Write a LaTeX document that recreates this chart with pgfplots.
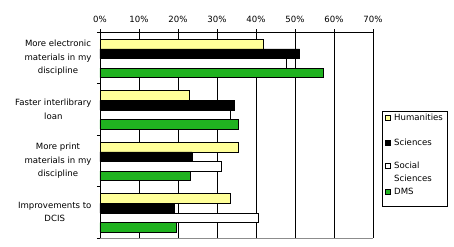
\documentclass[border=0pt]{standalone}
\usepackage{pgfplots}
\pgfplotsset{compat=1.18}
\usepackage{fontspec}
\setmainfont{DejaVu Sans}
\definecolor{hum}{RGB}{255,255,153}
\definecolor{dms}{RGB}{32,178,32}
\definecolor{bord}{RGB}{140,140,140}
\pgfplotsset{sq/.style={legend image code/.code={\path (0bp,0bp); \draw[##1,line width=0.8bp] (2bp,0bp) rectangle (7bp,5bp);}}}
\begin{document}
\begin{tikzpicture}[font=\fontsize{8.6}{13.3}\selectfont]
\useasboundingbox (-100bp,-9bp) rectangle (354bp,238bp);
\begin{axis}[
  at={(0,0)}, anchor=south west,
  scale only axis, width=273bp, height=206bp,
  xbar, bar width=9.6bp,
  xmin=0, xmax=70, ymin=-0.5, ymax=3.5, y dir=reverse,
  axis x line*=top, axis y line*=left,
  axis line style={black, line width=0.8bp, -},
  tick align=outside, major tick length=3bp,
  tick style={black, line width=0.8bp},
  xtick={0,10,...,70},
  xticklabel={\pgfmathprintnumber{\tick}\%},
  xticklabel style={yshift=3bp},
  /pgf/number format/assume math mode=true,
  xmajorgrids, major grid style={black, line width=0.8bp},
  ytick={-0.5,0.5,1.5,2.5,3.5}, yticklabels={,,,,},
  extra y ticks={0,1,2,3},
  extra y tick labels={{More electronic\\materials in my\\discipline},{Faster interlibrary\\loan},{More print\\materials in my\\discipline},{Improvements to\\DCIS}},
  extra y tick style={major tick length=0pt},
  tick label style={font=\fontsize{8.6}{13.3}\selectfont},
  yticklabel style={align=center, xshift=-5bp},
  legend style={at={(axis description cs:1.033,0.6165)}, anchor=north west,
    draw=black, line width=0.8bp, inner xsep=1bp, inner ysep=1.8bp, row sep=0pt,
    font=\fontsize{8.6}{13.3}\selectfont,
    nodes={inner ysep=1bp, inner xsep=3bp, text depth=}, cells={anchor=base west}},
]
\addplot[fill=hum, draw=black, line width=0.8bp, bar shift=13.65bp, sq] coordinates {(42,0) (23,1) (35.5,2) (33.5,3)};
\addlegendentry{Humanities\rule[-16.2bp]{0pt}{0pt}}
\addplot[fill=black, draw=black, line width=0.8bp, bar shift=4.05bp, sq] coordinates {(51.2,0) (34.4,1) (23.6,2) (19.1,3)};
\addlegendentry{Sciences\rule[-14.8bp]{0pt}{0pt}}
\addplot[fill=white, draw=black, line width=0.8bp, bar shift=-5.55bp, sq] coordinates {(47.7,0) (33.4,1) (31.1,2) (40.6,3)};
\addlegendentry{Social\rule[-4bp]{0pt}{0pt}}
\addlegendimage{legend image code/.code={}}
\addlegendentry{Sciences\rule[-4.5bp]{0pt}{0pt}}
\addplot[fill=dms, draw=black, line width=0.8bp, bar shift=-15.15bp, sq] coordinates {(57.3,0) (35.5,1) (23.2,2) (19.6,3)};
\addlegendentry{DMS\rule[-9.7bp]{0pt}{0pt}}
\draw[bord, line width=0.8bp] (axis description cs:1,0) -- (axis description cs:1,1);
\draw[bord, line width=0.8bp] (axis description cs:0,0) -- (axis description cs:1,0);
\end{axis}
\end{tikzpicture}
\end{document}
